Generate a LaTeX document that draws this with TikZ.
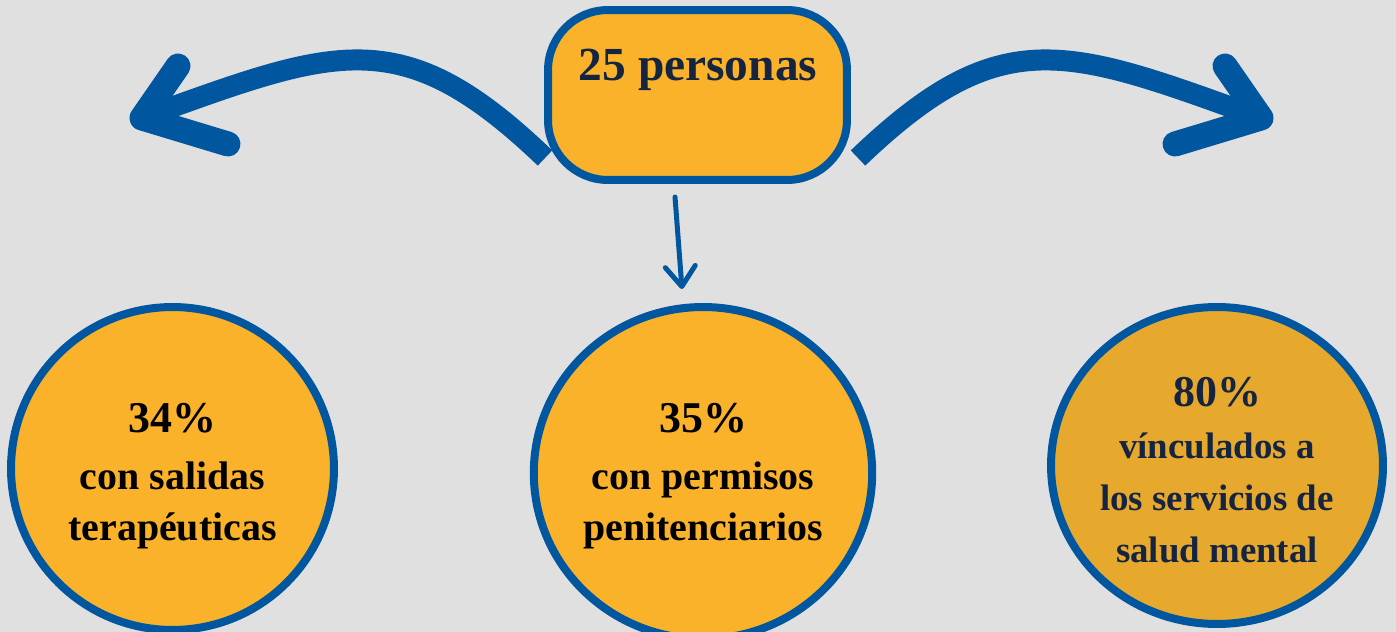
\documentclass[tikz,border=0pt]{standalone}
\usepackage{fontspec}
\setmainfont{Liberation Serif}
\usetikzlibrary{arrows.meta,shapes.geometric}

\definecolor{fondo}{HTML}{E0E0E0}
\definecolor{azul}{HTML}{0057A0}
\definecolor{naranja}{HTML}{F9B22A}
\definecolor{ocre}{HTML}{E6A82D}
\definecolor{tinta}{HTML}{16253F}

\tikzset{
  circulo/.style={ellipse, draw=azul, line width=.16cm, fill=naranja, inner sep=0pt,
    align=center, font=\bfseries\fontsize{22.7}{29}\selectfont},
  caja/.style={draw=azul, line width=.16cm, fill=naranja, rounded corners=1.2cm,
    minimum width=5.98cm, minimum height=3.4cm},
  flechagorda/.style={draw=azul, line width=.42cm},
  puntagorda/.style={draw=azul, line width=.5cm, line cap=round, line join=round},
  flechita/.style={draw=azul, line width=.1cm, line cap=round,
    -{Straight Barb[length=.4cm, width=.6cm, round]}}
}

\begin{document}
\begin{tikzpicture}[x=0.02cm, y=-0.02cm]
\useasboundingbox (0,0) rectangle (1396,632);
\fill[fondo] (0,0) rectangle (1396,632);
\clip (0,0) rectangle (1396,632);

\node[caja] (total) at (697.5,95) {};
\node[anchor=base, text=tinta, font=\bfseries\fontsize{27}{32}\selectfont] (totaltxt) at (698,80) {25 personas};

\node[circulo, minimum width=6.46cm, minimum height=6.46cm] (salidas) at (172.5,468.5)
  {\rule{0pt}{25pt}{\fontsize{25}{29}\selectfont 34\%}\\[3.3pt] con salidas\\ terapéuticas};
\node[circulo, minimum width=6.64cm, minimum height=6.64cm] (permisos) at (703,473)
  {\rule{0pt}{20pt}{\fontsize{25}{29}\selectfont 35\%}\\[3.3pt] con permisos\\ penitenciarios};
\node[circulo, fill=ocre, text=tinta, font=\bfseries\fontsize{21}{29.5}\selectfont,
  minimum width=6.64cm, minimum height=6.34cm] (salud) at (1217,465.5)
  {\rule{0pt}{22pt}{\fontsize{25}{29}\selectfont 80\%}\\ vínculados a\\ los servicios de\\ salud mental};

% flechas
\coordinate (izqA) at (545,158);
\coordinate (izqB) at (142,118);
\coordinate (derA) at (858,158);
\coordinate (derB) at (1261,118);
\draw[flechagorda] (izqA) .. controls (401,20) and (336,48) .. (izqB);
\draw[puntagorda] (178,66) -- (izqB) -- (228,144);
\draw[flechagorda] (derA) .. controls (1002,20) and (1067,48) .. (derB);
\draw[puntagorda] (1225,66) -- (derB) -- (1175,144);

\coordinate (abA) at (675,197);
\coordinate (abB) at (682,289);
\draw[flechita] (abA) -- (abB);
\end{tikzpicture}
\end{document}
